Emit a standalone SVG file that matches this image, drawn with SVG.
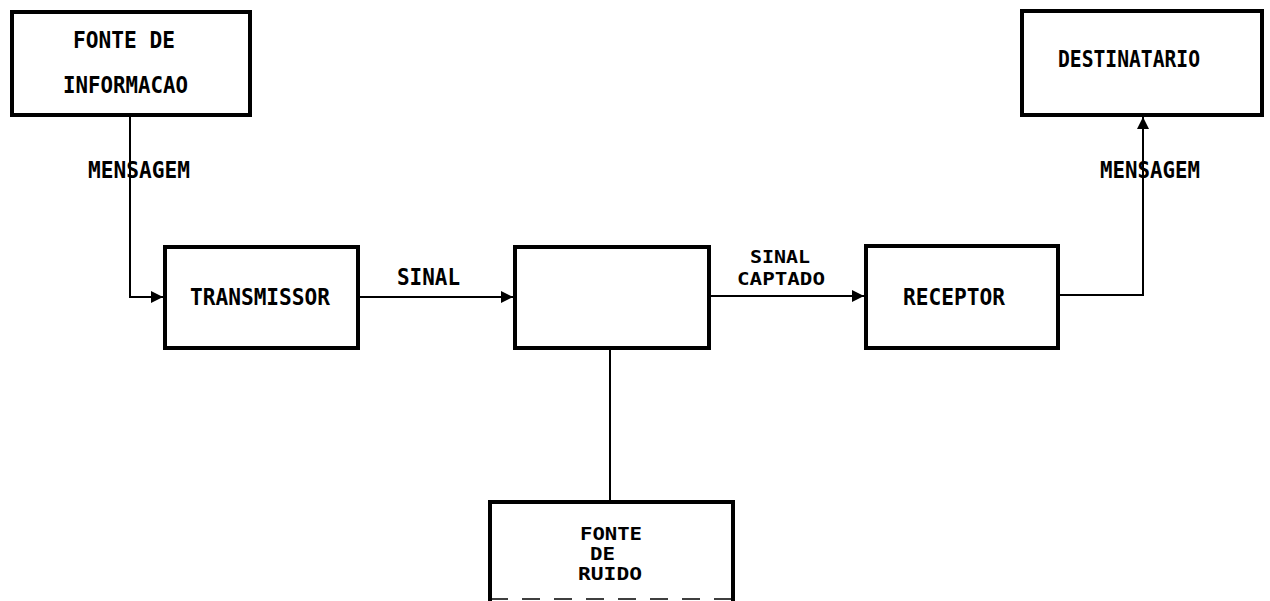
<svg xmlns="http://www.w3.org/2000/svg" width="1270" height="601" viewBox="0 0 1270 601">
<style>
.box{fill:#fff;stroke:#000;stroke-width:4}
.ln{fill:none;stroke:#000;stroke-width:2}
text{font-family:"DejaVu Sans Mono","Liberation Mono",monospace;font-weight:bold;font-size:23px;fill:#000}
.sm{font-size:18px}
</style>
<defs>
<marker id="ah" viewBox="0 0 12 12" refX="12" refY="6" markerWidth="12" markerHeight="12" markerUnits="userSpaceOnUse" orient="auto">
<path d="M0,0 L12,6 L0,12 Z" fill="#000"/>
</marker>
</defs>
<rect width="1270" height="601" fill="#fff"/>
<g id="connectors">
<polyline class="ln" points="130,115 130,297 163,297" marker-end="url(#ah)"/>
<line class="ln" x1="358" y1="297" x2="513" y2="297" marker-end="url(#ah)"/>
<line class="ln" x1="709" y1="296" x2="864" y2="296" marker-end="url(#ah)"/>
<polyline class="ln" points="1058,295 1143,295 1143,117" marker-end="url(#ah)"/>
<line class="ln" x1="610" y1="348" x2="610" y2="502"/>
<text x="88" y="178" textLength="102" lengthAdjust="spacingAndGlyphs">MENSAGEM</text>
<text x="1100" y="178" textLength="100" lengthAdjust="spacingAndGlyphs">MENSAGEM</text>
<text x="397" y="285" textLength="63" lengthAdjust="spacingAndGlyphs">SINAL</text>
<text class="sm" x="750" y="263" textLength="60" lengthAdjust="spacingAndGlyphs">SINAL</text>
<text class="sm" x="737" y="285" textLength="88" lengthAdjust="spacingAndGlyphs">CAPTADO</text>
</g>
<g id="fonte-informacao">
<rect class="box" x="12" y="12" width="238" height="103"/>
<text x="73" y="48" textLength="102" lengthAdjust="spacingAndGlyphs">FONTE DE</text>
<text x="63" y="93" textLength="125" lengthAdjust="spacingAndGlyphs">INFORMACAO</text>
</g>
<g id="destinatario">
<rect class="box" x="1022" y="11" width="240" height="104"/>
<text x="1058" y="67" textLength="142" lengthAdjust="spacingAndGlyphs">DESTINATARIO</text>
</g>
<g id="transmissor">
<rect class="box" x="165" y="247" width="193" height="101"/>
<text x="190" y="305" textLength="140" lengthAdjust="spacingAndGlyphs">TRANSMISSOR</text>
</g>
<g id="canal">
<rect class="box" x="515" y="247" width="194" height="101"/>
</g>
<g id="receptor">
<rect class="box" x="866" y="246" width="192" height="102"/>
<text x="903" y="305" textLength="102" lengthAdjust="spacingAndGlyphs">RECEPTOR</text>
</g>
<g id="fonte-ruido">
<rect class="box" x="490" y="502" width="243" height="120"/>
<line x1="490" y1="599" x2="733" y2="599" stroke="#000" stroke-width="1.5" stroke-dasharray="18,14"/>
<text class="sm" x="580" y="540" textLength="62" lengthAdjust="spacingAndGlyphs">FONTE</text>
<text class="sm" x="590" y="560" textLength="25" lengthAdjust="spacingAndGlyphs">DE</text>
<text class="sm" x="578" y="580" textLength="64" lengthAdjust="spacingAndGlyphs">RUIDO</text>
</g>
</svg>
